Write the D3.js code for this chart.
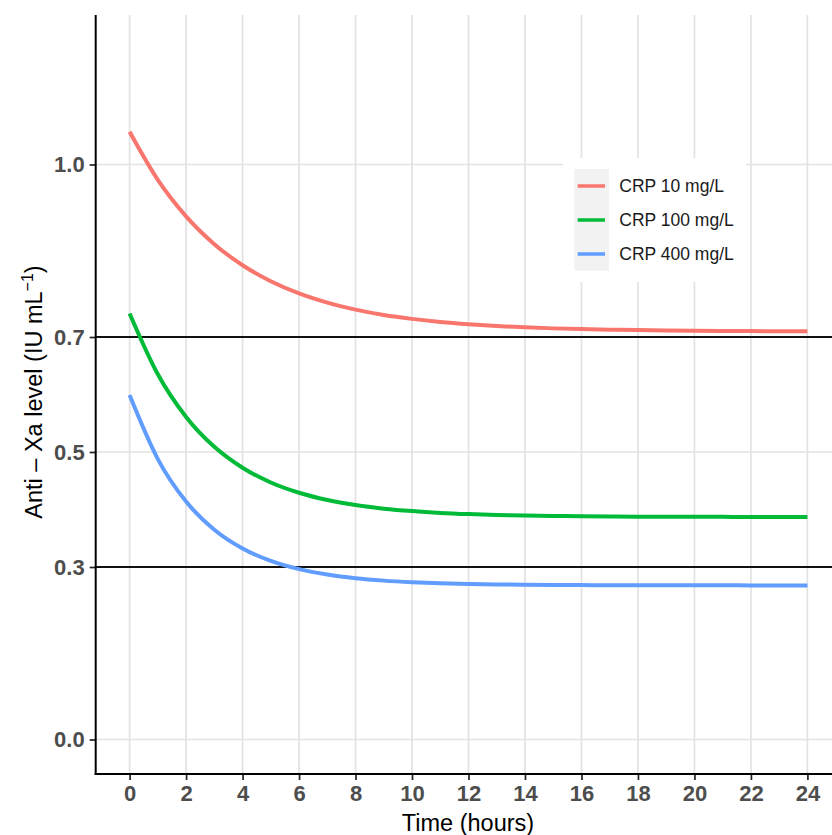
<!DOCTYPE html>
<html>
<head>
<meta charset="utf-8">
<script src="https://cdn.jsdelivr.net/npm/d3@7"></script>
<style>
  body { margin: 0; background: #fff; }
  svg { display: block; font-family: "Liberation Sans", Arial, Helvetica, sans-serif; }
</style>
</head>
<body>
<div id="main_div"></div>
<script>
var WIDTH = 832;
var HEIGHT = 835;

// hours since dose
var hours = [0, 1, 2, 3, 4, 5, 6, 7, 8, 9, 10, 11, 12, 13, 14, 15, 16, 17, 18, 19, 20, 21, 22, 23, 24];

// anti-Xa level (IU/mL) per CRP group
var crp10 = [1.057, 0.9733, 0.9098, 0.8615, 0.8248, 0.7970, 0.7758, 0.7598, 0.7476, 0.7383, 0.7315, 0.7262,
             0.7222, 0.7191, 0.7168, 0.7150, 0.7137, 0.7127, 0.7120, 0.7114, 0.7109, 0.7106, 0.7103, 0.7101, 0.7100];
var crp100 = [0.741, 0.6352, 0.5610, 0.5090, 0.4726, 0.4470, 0.4291, 0.4165, 0.4077, 0.4015, 0.3972, 0.3941,
              0.3920, 0.3905, 0.3894, 0.3887, 0.3882, 0.3878, 0.3876, 0.3874, 0.3873, 0.3872, 0.3871, 0.3871, 0.3871];
var crp400 = [0.599, 0.4877, 0.4138, 0.3648, 0.3322, 0.3106, 0.2963, 0.2868, 0.2804, 0.2763, 0.2735, 0.2716,
              0.2704, 0.2696, 0.2691, 0.2687, 0.2685, 0.2683, 0.2682, 0.2681, 0.2681, 0.2681, 0.2680, 0.2680, 0.2680];

var seriesNames = ["CRP 10 mg/L", "CRP 100 mg/L", "CRP 400 mg/L"];
var seriesColors = ["#F8766D", "#00BA38", "#619CFF"];

var xTicks = [0, 2, 4, 6, 8, 10, 12, 14, 16, 18, 20, 22, 24];
var yTicks = [0.0, 0.3, 0.5, 0.7, 1.0];
var refLevels = [0.3, 0.7];

// panel edges
var PANEL_LEFT = 95.7;
var PANEL_RIGHT = 832;
var PANEL_TOP = 15;
var PANEL_BOTTOM = 774;

var x = d3.scaleLinear().domain([-1.2, 25.2]).range([PANEL_LEFT, 841.3]);
var y = d3.scaleLinear().domain([-0.06, 1.26]).range([PANEL_BOTTOM, PANEL_TOP]);

var svg = d3.select("#main_div").append("svg")
  .attr("width", WIDTH)
  .attr("height", HEIGHT);

// grid
var grid = svg.append("g");
grid.selectAll(".vgrid").data(xTicks).enter().append("line")
  .attr("x1", function(d) { return x(d); })
  .attr("x2", function(d) { return x(d); })
  .attr("y1", PANEL_TOP).attr("y2", PANEL_BOTTOM)
  .style("stroke", "#e2e2e2").style("stroke-width", 1.7);
grid.selectAll(".hgrid").data(yTicks).enter().append("line")
  .attr("x1", PANEL_LEFT).attr("x2", PANEL_RIGHT)
  .attr("y1", function(d) { return y(d); })
  .attr("y2", function(d) { return y(d); })
  .style("stroke", "#e2e2e2").style("stroke-width", 1.7);

// reference lines
svg.selectAll(".ref").data(refLevels).enter().append("line")
  .attr("x1", PANEL_LEFT).attr("x2", PANEL_RIGHT)
  .attr("y1", function(d) { return y(d); })
  .attr("y2", function(d) { return y(d); })
  .style("stroke", "#111").style("stroke-width", 2);

// curves
var series = [crp10, crp100, crp400];
var line = d3.line()
  .x(function(d, i) { return x(hours[i]); })
  .y(function(d) { return y(d); })
  .curve(d3.curveMonotoneX);

svg.selectAll(".curve").data(series).enter().append("path")
  .attr("d", line)
  .style("fill", "none")
  .style("stroke", function(d, i) { return seriesColors[i]; })
  .style("stroke-width", 4);

// axes
var xAxis = svg.append("g")
  .attr("transform", "translate(0," + PANEL_BOTTOM + ")")
  .call(d3.axisBottom(x).tickValues(xTicks).tickSize(6).tickPadding(5).tickFormat(d3.format("d")));
xAxis.select(".domain").remove();
xAxis.append("line").attr("x1", PANEL_LEFT - 1).attr("x2", PANEL_RIGHT)
  .style("stroke", "#000").style("stroke-width", 2);

var yAxis = svg.append("g")
  .attr("transform", "translate(" + PANEL_LEFT + ",0)")
  .call(d3.axisLeft(y).tickValues(yTicks).tickSize(6).tickPadding(5).tickFormat(d3.format(".1f")));
yAxis.select(".domain").remove();
yAxis.append("line").attr("y1", PANEL_TOP).attr("y2", PANEL_BOTTOM + 1)
  .style("stroke", "#000").style("stroke-width", 2);

svg.selectAll(".tick line").style("stroke", "#222").style("stroke-width", 1.7);
svg.selectAll(".tick text")
  .style("font-size", "22px")
  .style("font-weight", "bold")
  .style("fill", "#4d4d4d")
  .style("font-family", "'Liberation Sans', Arial, sans-serif");

// axis titles
svg.append("text")
  .attr("x", 468).attr("y", 831)
  .attr("text-anchor", "middle")
  .style("font-size", "23.5px")
  .style("fill", "#000")
  .text("Time (hours)");

var yTitle = svg.append("text")
  .attr("transform", "translate(42,392) rotate(-90)")
  .attr("text-anchor", "middle")
  .style("font-size", "23.5px")
  .style("fill", "#000");
yTitle.append("tspan").text("Anti \u2013 Xa level (IU mL");
yTitle.append("tspan").attr("dy", -9).style("font-size", "16px").text("\u22121");
yTitle.append("tspan").attr("dy", 9).text(")");

// legend
var legend = svg.append("g").attr("transform", "translate(563,158)");
legend.append("rect")
  .attr("width", 183).attr("height", 124)
  .style("fill", "#fff");
legend.append("rect")
  .attr("x", 11.3).attr("y", 11)
  .attr("width", 34.7).attr("height", 101.7)
  .style("fill", "#f2f2f2");

var item = legend.selectAll(".item").data(seriesNames).enter().append("g")
  .attr("transform", function(d, i) { return "translate(0," + (28 + i * 34) + ")"; });
item.append("line")
  .attr("x1", 14.7).attr("x2", 42)
  .style("stroke", function(d, i) { return seriesColors[i]; })
  .style("stroke-width", 3.5);
item.append("text")
  .attr("x", 56.3).attr("dy", "0.35em")
  .style("font-size", "17.5px")
  .style("fill", "#1a1a1a")
  .text(function(d) { return d; });
</script>
</body>
</html>
